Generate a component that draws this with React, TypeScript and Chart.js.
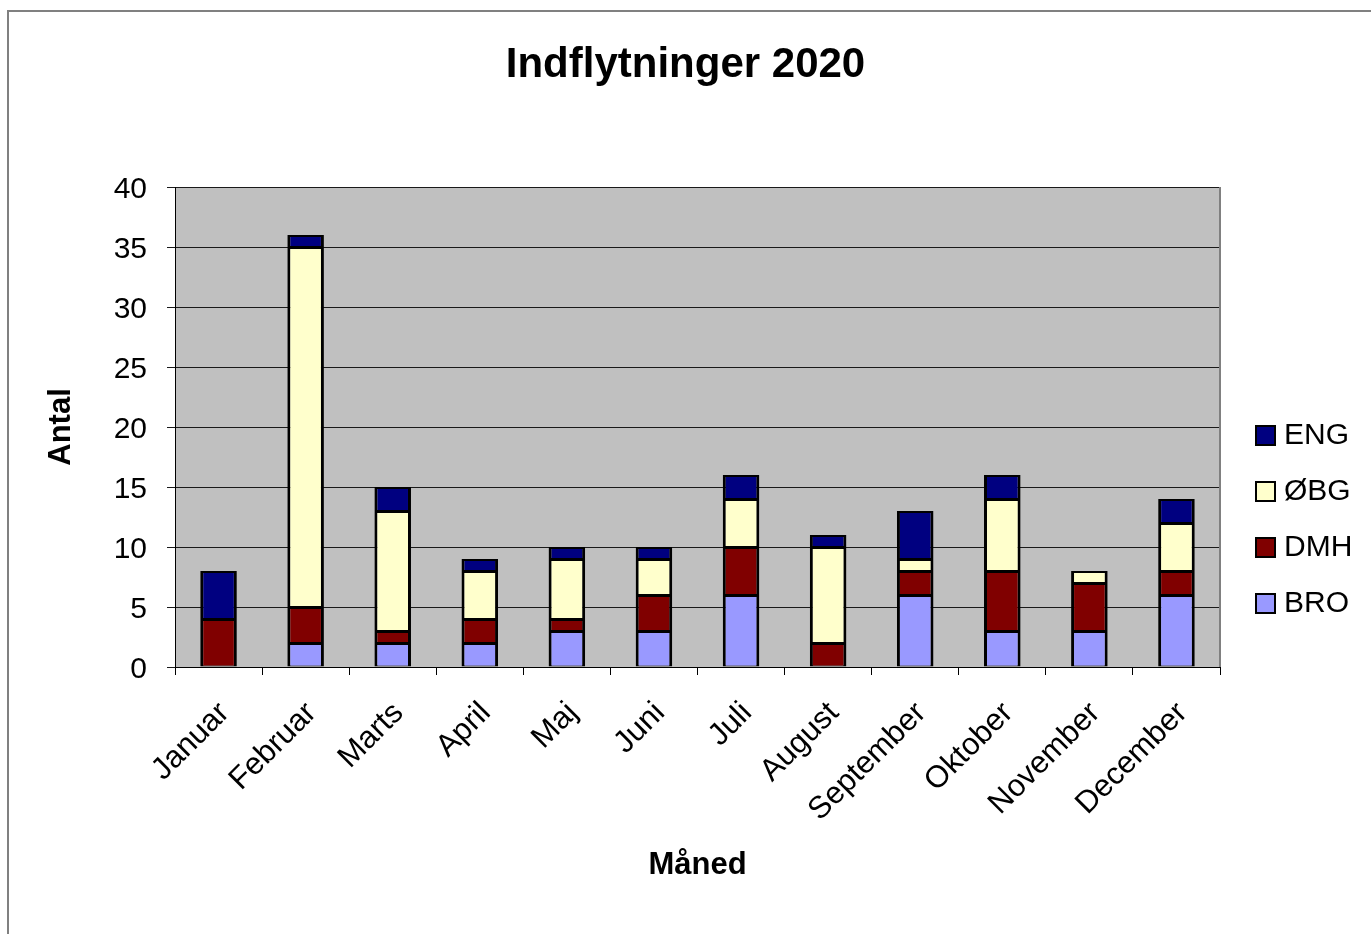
import { useEffect, useRef } from "react";
import { Chart, registerables } from "chart.js";

Chart.register(...registerables);

const months = ["Januar", "Februar", "Marts", "April", "Maj", "Juni", "Juli", "August", "September", "Oktober", "November", "December"];
const seriesNames = ["BRO", "DMH", "ØBG", "ENG"];
const seriesColors = ["#9999FF", "#800000", "#FFFFCC", "#000080"];
const bro = [0, 2, 2, 2, 3, 3, 6, 0, 6, 3, 3, 6];
const dmh = [4, 3, 1, 2, 1, 3, 4, 2, 2, 5, 4, 2];
const obg = [0, 30, 10, 4, 5, 3, 4, 8, 1, 6, 1, 4];
const eng = [4, 1, 2, 1, 1, 1, 2, 1, 4, 2, 0, 2];
const yMin = 0;
const yMax = 40;
const yStep = 5;

const FONT = "'Liberation Sans', Arial, Helvetica, sans-serif";

const decorPlugin = {
  id: "decor",
  beforeDraw(chart: any) {
    const { ctx, chartArea: a } = chart;
    ctx.save();
    ctx.fillStyle = "#C0C0C0";
    ctx.fillRect(a.left, a.top, a.right - a.left, a.bottom - a.top);
    ctx.strokeStyle = "#808080";
    ctx.lineWidth = 2;
    ctx.strokeRect(8, 11, 1400, 1000);
    ctx.restore();
  },
  beforeDatasetsDraw(chart: any) {
    const { ctx, chartArea: a } = chart;
    ctx.save();
    ctx.strokeStyle = "#808080";
    ctx.lineWidth = 2;
    ctx.beginPath();
    ctx.moveTo(a.right, a.top);
    ctx.lineTo(a.right, a.bottom);
    ctx.stroke();
    ctx.restore();
  },
  afterDraw(chart: any) {
    const { ctx } = chart;
    const ds = chart.data.datasets.slice().reverse();
    ctx.save();
    ctx.font = `30px ${FONT}`;
    ctx.textBaseline = "middle";
    ctx.textAlign = "left";
    ds.forEach((d: any, i: number) => {
      const cy = 435 + i * 56;
      ctx.fillStyle = d.backgroundColor;
      ctx.fillRect(1255, cy - 10, 21, 21);
      ctx.strokeStyle = "#000";
      ctx.lineWidth = 2;
      ctx.strokeRect(1256, cy - 9, 19, 19);
      ctx.fillStyle = "#000";
      ctx.fillText(d.label, 1284, cy + 1);
    });
    ctx.restore();
  },
};

export default function App() {
  const ref = useRef<HTMLCanvasElement | null>(null);

  useEffect(() => {
    if (!ref.current) return;
    const values = [bro, dmh, obg, eng];
    const chart = new Chart(ref.current, {
      type: "bar",
      data: {
        labels: months,
        datasets: seriesNames.map((name, i) => ({
          label: name,
          data: values[i],
          backgroundColor: seriesColors[i],
          borderColor: "#000000",
          borderWidth: { top: 2, bottom: 1, left: 3, right: 3 },
          borderSkipped: false,
          barPercentage: 0.42,
          categoryPercentage: 1,
        })),
      },
      options: {
        animation: false,
        responsive: false,
        devicePixelRatio: 1,
        layout: { padding: 0 },
        plugins: {
          legend: { display: false },
          tooltip: { enabled: false },
          title: {
            display: true,
            text: "Indflytninger 2020",
            color: "#000",
            font: { family: FONT, size: 42, weight: "bold", lineHeight: 1.2 },
            padding: { top: 40, bottom: 96.6 },
          },
        },
        scales: {
          x: {
            stacked: true,
            grid: {
              display: true,
              drawOnChartArea: false,
              drawTicks: true,
              tickLength: 8,
              color: "#000",
              offset: true,
            },
            border: { display: true, color: "#000", width: 1 },
            ticks: {
              color: "#000",
              font: { family: FONT, size: 31 },
              minRotation: 45,
              maxRotation: 45,
              autoSkip: false,
              padding: 20,
              labelOffset: 6,
            },
            title: {
              display: true,
              text: "Måned",
              color: "#000",
              font: { family: FONT, size: 31, weight: "bold", lineHeight: 1.2 },
              padding: { top: 0, bottom: 50 },
            },
            afterFit(scale: any) {
              scale.height = 267;
            },
          },
          y: {
            stacked: true,
            min: yMin,
            max: yMax,
            ticks: {
              stepSize: yStep,
              color: "#000",
              font: { family: FONT, size: 30 },
              padding: 20,
              labelOffset: 3,
            },
            grid: {
              color: "#1a1a1a",
              lineWidth: 1,
              tickLength: 8,
              drawTicks: true,
            },
            border: { display: true, color: "#000", width: 1 },
            title: {
              display: true,
              text: "Antal",
              color: "#000",
              font: { family: FONT, size: 31, weight: "bold", lineHeight: 1.2 },
              padding: { top: 43, bottom: 0 },
            },
            afterFit(scale: any) {
              scale.width = 175;
            },
          },
          legendSpace: {
            type: "linear",
            position: "right",
            display: true,
            min: 0,
            max: 1,
            grid: { display: false, drawTicks: false },
            border: { display: false },
            ticks: { display: false },
            afterFit(scale: any) {
              scale.width = 151;
            },
          },
        },
      },
      plugins: [decorPlugin],
    });
    return () => chart.destroy();
  }, []);

  return (
    <canvas
      ref={ref}
      width={1371}
      height={934}
      style={{ position: "absolute", left: 0, top: 0, width: 1371, height: 934 }}
    />
  );
}
